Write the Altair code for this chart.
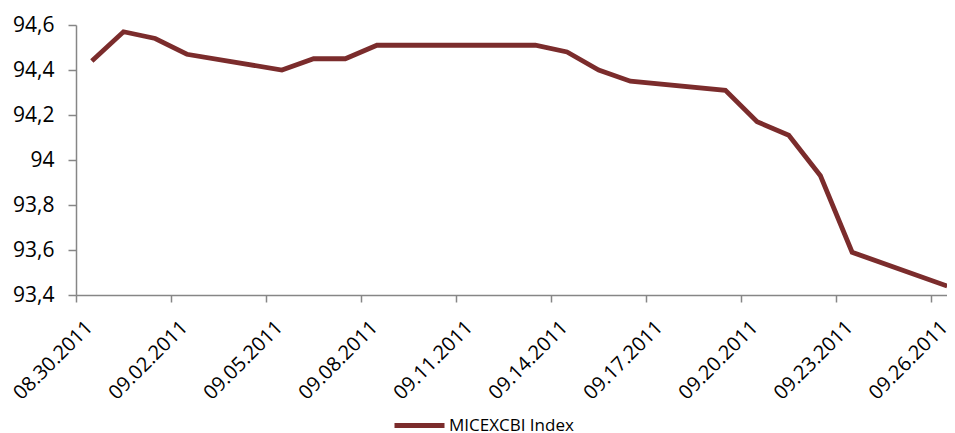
import altair as alt
import pandas as pd

dates = ["2011-08-30", "2011-08-31", "2011-09-01", "2011-09-02", "2011-09-05",
         "2011-09-06", "2011-09-07", "2011-09-08", "2011-09-09", "2011-09-12",
         "2011-09-13", "2011-09-14", "2011-09-15", "2011-09-16", "2011-09-19",
         "2011-09-20", "2011-09-21", "2011-09-22", "2011-09-23", "2011-09-26"]
values = [94.44, 94.57, 94.54, 94.47, 94.40,
          94.45, 94.45, 94.51, 94.51, 94.51,
          94.51, 94.48, 94.40, 94.35, 94.31,
          94.17, 94.11, 93.93, 93.59, 93.44]
series_name = "MICEXCBI Index"
tick_dates = ["2011-08-30", "2011-09-02", "2011-09-05", "2011-09-08", "2011-09-11",
              "2011-09-14", "2011-09-17", "2011-09-20", "2011-09-23", "2011-09-26"]
y_ticks = [93.4, 93.6, 93.8, 94.0, 94.2, 94.4, 94.6]

df = pd.DataFrame({"date": dates, "value": values, "series": series_name})


def dt(s):
    t = pd.Timestamp(s)
    return alt.DateTime(year=t.year, month=t.month, date=t.day, utc=True)


FONT = "Open Sans"
LINE_COLOR = "#7B2C2C"
AXIS_COLOR = "#868686"

chart = alt.Chart(df).transform_calculate(
    t="toDate(datum.date) + 43200000"
).mark_line(strokeWidth=4.8, strokeJoin="miter", strokeCap="butt").encode(
    x=alt.X("t:T",
            scale=alt.Scale(type="utc", domain=[dt("2011-08-30"), dt("2011-09-27")],
                            range=[0, 887]),
            axis=alt.Axis(values=[dt(d) for d in tick_dates],
                          labelExpr="utcFormat(datum.value, '%m.%d.%Y')",
                          labelAngle=-45, labelAlign="right", labelBaseline="middle",
                          labelPadding=22, labelOffset=13,
                          title=None, grid=False, tickSize=7,
                          domainColor=AXIS_COLOR, tickColor=AXIS_COLOR,
                          domainWidth=1.5, tickWidth=1.5,
                          labelFont=FONT, labelFontSize=20, labelColor="#000000",
                          labelOverlap=False, labelBound=False, labelFlush=False)),
    y=alt.Y("value:Q",
            scale=alt.Scale(domain=[93.4, 94.6], nice=False, zero=False),
            axis=alt.Axis(values=y_ticks,
                          labelExpr="replace(format(datum.value, '.1~f'), '.', ',')",
                          title=None, grid=False, tickSize=8,
                          domainColor=AXIS_COLOR, tickColor=AXIS_COLOR,
                          domainWidth=1.5, tickWidth=1.5, labelPadding=14,
                          labelFont=FONT, labelFontSize=21, labelColor="#000000")),
    color=alt.Color("series:N",
                    scale=alt.Scale(domain=[series_name], range=[LINE_COLOR]),
                    legend=alt.Legend(title=None, orient="none", legendX=316, legendY=373,
                                      symbolType="stroke", symbolSize=2500,
                                      symbolStrokeWidth=5, labelFont=FONT,
                                      labelFontSize=17, labelColor="#000000",
                                      labelOffset=2, padding=0))
).properties(
    width=871, height=270,
    autosize=alt.AutoSizeParams(type="none"),
    padding={"left": 68, "top": 17, "right": 0, "bottom": 138}
).configure_view(stroke=None)

chart.save("out.html", embed_options={"renderer": "svg", "actions": False})
